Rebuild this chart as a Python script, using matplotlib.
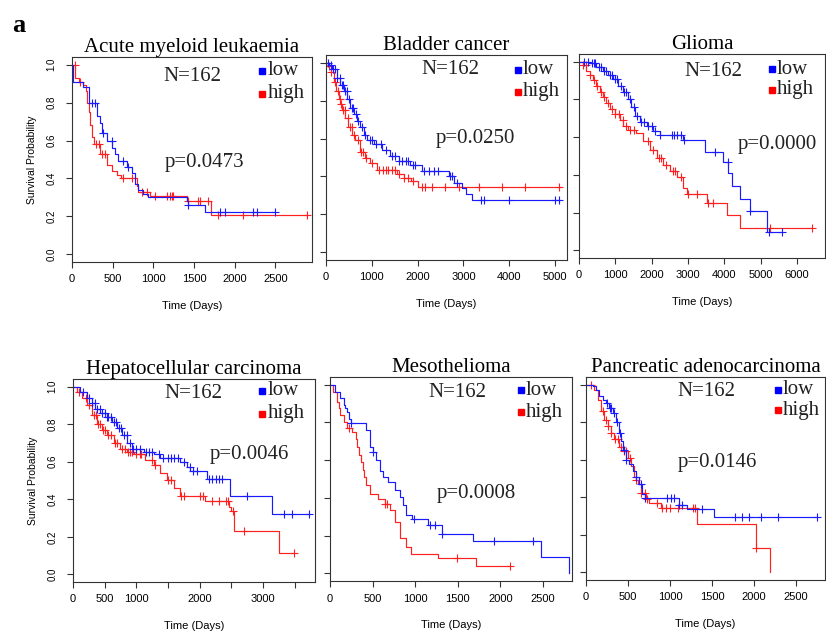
import numpy as np
import matplotlib
matplotlib.use('Agg')
import matplotlib.pyplot as plt

# === DATA ===
titles = ['Acute myeloid leukaemia', 'Bladder cancer', 'Glioma',
          'Hepatocellular carcinoma', 'Mesothelioma', 'Pancreatic adenocarcinoma']
n_label = 'N=162'
p_values = ['p=0.0473', 'p=0.0250', 'p=0.0000', 'p=0.0046', 'p=0.0008', 'p=0.0146']

# Acute myeloid leukaemia
aml_low_t = [0, 10, 139, 213, 303, 340, 370, 426, 490, 529, 570, 672, 733, 775, 815, 877, 939, 1410, 1430, 1635, 2496]
aml_low_s = [1.0, 0.91, 0.88, 0.80, 0.73, 0.69, 0.64, 0.60, 0.56, 0.53, 0.49, 0.46, 0.43, 0.37, 0.34, 0.32, 0.305, 0.28, 0.26, 0.225, 0.225]
aml_low_c = [242, 283, 385, 488, 631, 693, 1430, 1820, 1881, 2230, 2270, 2496]
aml_high_t = [0, 40, 80, 140, 170, 189, 205, 221, 240, 275, 344, 426, 488, 549, 600, 795, 816, 959, 1410, 1705, 2885]
aml_high_s = [1.0, 0.93, 0.91, 0.89, 0.86, 0.80, 0.75, 0.68, 0.62, 0.58, 0.53, 0.47, 0.44, 0.42, 0.40, 0.36, 0.33, 0.31, 0.28, 0.205, 0.205]
aml_high_c = [37, 100, 300, 330, 370, 400, 631, 734, 857, 918, 1020, 1164, 1205, 1225, 1246, 1430, 1553, 1574, 1676, 1800, 2107, 2885]

# Bladder cancer
bla_low_t = [0, 60, 130, 240, 313, 386, 458, 531, 604, 677, 750, 822, 895, 1040, 1223, 1405, 1587, 1841, 2096, 2678, 2800, 2970, 3050, 3188, 5117]
bla_low_s = [1.0, 0.985, 0.965, 0.92, 0.88, 0.85, 0.81, 0.76, 0.73, 0.69, 0.66, 0.62, 0.59, 0.57, 0.54, 0.51, 0.48, 0.46, 0.43, 0.40, 0.365, 0.34, 0.31, 0.275, 0.275]
bla_low_c = [50, 100, 150, 200, 250, 300, 350, 380, 420, 450, 500, 560, 600, 650, 700, 780, 850, 950, 1000, 1100,
             1200, 1300, 1450, 1500, 1600, 1650, 1750, 1800, 1900, 1950, 2150, 2250, 2350, 2450, 2700, 2750, 2850,
             3391, 3442, 4003, 5008, 5095]
bla_high_t = [0, 40, 100, 167, 218, 277, 306, 350, 422, 488, 568, 640, 742, 850, 961, 1106, 1543, 1700, 1850, 2016, 5117]
bla_high_s = [1.0, 0.98, 0.95, 0.90, 0.85, 0.81, 0.78, 0.75, 0.71, 0.66, 0.62, 0.59, 0.53, 0.50, 0.47, 0.435, 0.415, 0.39, 0.375, 0.347, 0.347]
bla_high_c = [60, 120, 200, 260, 300, 330, 380, 420, 470, 520, 560, 620, 700, 760, 800, 870, 1000, 1150, 1250, 1300,
              1350, 1450, 1500, 1600, 1700, 1800, 1900, 2100, 2170, 2314, 2606, 2897, 3333, 3843, 4352, 5080]

# Glioma
gli_low_t = [0, 294, 478, 662, 800, 938, 1076, 1214, 1352, 1444, 1536, 1674, 1858, 2042, 2226, 2870, 3468, 3974, 4100, 4204, 4434, 4710, 5170, 5584]
gli_low_s = [1.0, 0.99, 0.97, 0.95, 0.93, 0.91, 0.87, 0.84, 0.80, 0.76, 0.71, 0.68, 0.66, 0.63, 0.61, 0.585, 0.52, 0.47, 0.41, 0.34, 0.27, 0.21, 0.10, 0.10]
gli_low_c = [150, 250, 350, 400, 450, 550, 600, 700, 750, 850, 900, 1000, 1050, 1150, 1250, 1300, 1400, 1500, 1600,
             1700, 1800, 1900, 2000, 2100, 2226, 2550, 2620, 2700, 2820, 2880, 3744, 4094, 4710, 5216, 5584]
gli_high_t = [0, 100, 202, 290, 386, 478, 570, 662, 754, 846, 984, 1122, 1214, 1352, 1582, 1766, 1950, 2134, 2318, 2502, 2686, 2870, 2962, 3514, 4066, 4434, 6412]
gli_high_s = [1.0, 0.98, 0.95, 0.93, 0.90, 0.87, 0.84, 0.81, 0.78, 0.75, 0.72, 0.69, 0.66, 0.64, 0.62, 0.58, 0.53, 0.49, 0.45, 0.42, 0.39, 0.33, 0.30, 0.25, 0.19, 0.12, 0.12]
gli_high_c = [100, 200, 300, 400, 500, 600, 700, 800, 900, 1000, 1100, 1200, 1300, 1400, 1500, 1900, 2050, 2200, 2250,
              2400, 2600, 2650, 2800, 3000, 3238, 3560, 3698, 5262, 6412]

# Hepatocellular carcinoma
hcc_low_t = [0, 116, 221, 300, 353, 432, 537, 616, 695, 774, 853, 932, 1116, 1274, 1379, 1695, 1800, 1853, 2116, 2484, 3142, 3721]
hcc_low_s = [1.0, 0.97, 0.94, 0.91, 0.88, 0.86, 0.84, 0.81, 0.78, 0.74, 0.70, 0.67, 0.65, 0.64, 0.62, 0.60, 0.57, 0.55, 0.51, 0.42, 0.32, 0.32]
hcc_low_c = [150, 250, 300, 350, 380, 420, 460, 500, 540, 560, 600, 640, 680, 720, 760, 800, 850, 900, 950, 1000,
             1050, 1150, 1200, 1250, 1350, 1420, 1500, 1550, 1600, 1650, 1750, 1850, 1900, 1950, 2150, 2200, 2250,
             2300, 2350, 2747, 3326, 3458, 3721]
hcc_high_t = [0, 60, 142, 221, 300, 379, 458, 537, 642, 747, 853, 958, 1142, 1274, 1379, 1484, 1590, 1695, 2090, 2458, 2500, 2537, 3247, 3484]
hcc_high_s = [1.0, 0.97, 0.94, 0.90, 0.85, 0.80, 0.77, 0.74, 0.70, 0.67, 0.65, 0.64, 0.61, 0.58, 0.54, 0.50, 0.46, 0.42, 0.39, 0.36, 0.34, 0.23, 0.115, 0.115]
hcc_high_c = [100, 200, 260, 330, 360, 400, 430, 480, 500, 560, 600, 660, 700, 780, 820, 870, 900, 930, 1000, 1050,
              1080, 1250, 1300, 1500, 1550, 1700, 1750, 2000, 2050, 2200, 2300, 2420, 2450, 2520, 2700, 3484]

# Mesothelioma
mes_low_t = [0, 60, 121, 161, 181, 202, 222, 242, 423, 464, 504, 544, 585, 625, 685, 766, 827, 860, 887, 968, 1149, 1310, 1681, 2472, 2802]
mes_low_s = [1.0, 0.96, 0.93, 0.89, 0.875, 0.857, 0.82, 0.795, 0.76, 0.67, 0.645, 0.60, 0.54, 0.51, 0.485, 0.44, 0.405, 0.36, 0.31, 0.29, 0.255, 0.21, 0.17, 0.087, 0.0]
mes_low_c = [250, 504, 988, 1169, 1230, 1310, 1927, 2379]
mes_high_t = [0, 40, 81, 100, 121, 161, 202, 262, 302, 320, 343, 363, 383, 403, 423, 464, 565, 645, 706, 766, 827, 887, 948, 1270, 1714, 2117]
mes_high_s = [1.0, 0.96, 0.91, 0.875, 0.84, 0.80, 0.77, 0.75, 0.71, 0.67, 0.627, 0.59, 0.547, 0.51, 0.467, 0.418, 0.396, 0.37, 0.335, 0.27, 0.19, 0.14, 0.104, 0.081, 0.042, 0.042]
mes_high_c = [222, 645, 665, 1492, 2109]

# Pancreatic adenocarcinoma
pan_low_t = [0, 79, 119, 158, 198, 237, 277, 316, 356, 396, 415, 435, 475, 514, 554, 593, 633, 672, 700, 1107, 1200, 1520, 2750]
pan_low_s = [1.0, 0.99, 0.97, 0.94, 0.92, 0.90, 0.875, 0.85, 0.80, 0.74, 0.70, 0.65, 0.60, 0.575, 0.54, 0.51, 0.47, 0.42, 0.396, 0.36, 0.34, 0.293, 0.293]
pan_low_c = [250, 280, 300, 330, 370, 400, 450, 480, 600, 650, 700, 968, 1008, 1047, 1107, 1146, 1383, 1778, 1858,
             1937, 2076, 2286, 2750]
pan_high_t = [0, 99, 138, 178, 217, 257, 296, 336, 396, 435, 494, 534, 574, 593, 613, 652, 712, 751, 889, 1325, 2017, 2184]
pan_high_s = [1.0, 0.97, 0.92, 0.86, 0.81, 0.78, 0.74, 0.71, 0.67, 0.645, 0.61, 0.565, 0.51, 0.49, 0.47, 0.425, 0.39, 0.37, 0.345, 0.26, 0.13, 0.0]
pan_high_c = [59, 200, 240, 260, 300, 340, 380, 420, 450, 480, 520, 600, 660, 700, 720, 850, 900, 950, 1000, 1100,
              1270, 1300, 2017]

curves = [
    (aml_low_t, aml_low_s, aml_low_c, aml_high_t, aml_high_s, aml_high_c),
    (bla_low_t, bla_low_s, bla_low_c, bla_high_t, bla_high_s, bla_high_c),
    (gli_low_t, gli_low_s, gli_low_c, gli_high_t, gli_high_s, gli_high_c),
    (hcc_low_t, hcc_low_s, hcc_low_c, hcc_high_t, hcc_high_s, hcc_high_c),
    (mes_low_t, mes_low_s, mes_low_c, mes_high_t, mes_high_s, mes_high_c),
    (pan_low_t, pan_low_s, pan_low_c, pan_high_t, pan_high_s, pan_high_c),
]

x_ticks = [
    [0, 500, 1000, 1500, 2000, 2500],
    [0, 1000, 2000, 3000, 4000, 5000],
    [0, 1000, 2000, 3000, 4000, 5000, 6000],
    [0, 500, 1000, 1500, 2000, 2500, 3000, 3500],
    [0, 500, 1000, 1500, 2000, 2500],
    [0, 500, 1000, 1500, 2000, 2500],
]
x_ticklabels = [
    ['0', '500', '1000', '1500', '2000', '2500'],
    ['0', '1000', '2000', '3000', '4000', '5000'],
    ['0', '1000', '2000', '3000', '4000', '5000', '6000'],
    ['0', '500', '1000', '', '2000', '', '3000', ''],
    ['0', '500', '1000', '1500', '2000', '2500'],
    ['0', '500', '1000', '1500', '2000', '2500'],
]
y_ticks = [0.0, 0.2, 0.4, 0.6, 0.8, 1.0]
y_ticklabels = ['0.0', '0.2', '0.4', '0.6', '0.8', '1.0']

# === LAYOUT (pixels: left, right, top, bottom) ===
W, H = 826, 633
rects = [(72, 312, 57, 262), (326, 567, 55, 260), (579, 825, 54, 258),
         (73, 315, 379, 582), (330, 572, 377, 581), (586, 825, 377, 580)]
xmaxes = [2950, 5262, 6770, 3820, 2840, 2843]
# axes fraction: N text, legend square x, low y, high y, legend text x, p text
annot = [
    ((0.50, 0.907), 0.792, 0.932, 0.820, 0.817, (0.554, 0.483)),
    ((0.515, 0.927), 0.797, 0.927, 0.820, 0.817, (0.622, 0.595)),
    ((0.545, 0.912), 0.785, 0.926, 0.824, 0.805, (0.805, 0.554)),
    ((0.496, 0.931), 0.781, 0.941, 0.828, 0.806, (0.731, 0.626)),
    ((0.525, 0.922), 0.789, 0.936, 0.828, 0.810, (0.603, 0.431)),
    ((0.502, 0.931), 0.803, 0.936, 0.837, 0.824, (0.548, 0.581)),
]

SERIF = 'Liberation Serif'
SANS = 'Liberation Sans'
LOW_C = '#1a1aff'
HIGH_C = '#ff2020'


def surv_at(t, s, c):
    idx = np.searchsorted(np.array(t), c, side='right') - 1
    return np.array(s)[idx]


fig = plt.figure(figsize=(W / 100, H / 100), dpi=100)
fig.patch.set_facecolor('white')

for i, (l, r, t, b) in enumerate(rects):
    ax = fig.add_axes([l / W, 1 - b / H, (r - l) / W, (b - t) / H])
    lt, ls, lc, ht, hs, hc = curves[i]

    for tt, ss, cc, col in [(ht, hs, hc, HIGH_C), (lt, ls, lc, LOW_C)]:
        ax.step(tt, ss, where='post', color=col, lw=0.85)
        ax.plot(cc, surv_at(tt, ss, cc), '+', color=col, ms=5.5, mew=0.8)

    ax.set_xlim(0, xmaxes[i])
    ax.set_ylim(-0.04, 1.04)
    ax.set_xticks(x_ticks[i])
    ax.set_xticklabels(x_ticklabels[i], fontfamily=SANS, fontsize=8)
    ax.set_yticks(y_ticks)
    if i % 3 == 0:
        ax.set_yticklabels(y_ticklabels, fontfamily=SANS, fontsize=7, rotation=90, va='center')
        ax.set_ylabel('Survival Probability', fontfamily=SANS, fontsize=7.5, labelpad=7)
    else:
        ax.set_yticklabels([])
    ax.tick_params(direction='out', length=4, width=0.8, color='#333333')
    ax.tick_params(axis='x', pad=5)
    ax.tick_params(axis='y', pad=7)
    ax.set_xlabel('Time (Days)', fontfamily=SANS, fontsize=8, labelpad=12)
    for sp in ax.spines.values():
        sp.set_color('#333333')
        sp.set_linewidth(0.8)

    ax.set_title(titles[i], fontfamily=SERIF, fontsize=15, pad=3)

    (nx, ny), sqx, ly, hy, tx, (px, py) = annot[i]
    ax.text(nx, ny, n_label, transform=ax.transAxes, ha='center', va='center',
            fontfamily=SERIF, fontsize=15, color='#222222')
    ax.plot([sqx], [ly], 's', color='blue', ms=5, transform=ax.transAxes, clip_on=False)
    ax.plot([sqx], [hy], 's', color='red', ms=5, transform=ax.transAxes, clip_on=False)
    ax.text(tx, ly, 'low', transform=ax.transAxes, ha='left', va='center',
            fontfamily=SERIF, fontsize=15, color='#222222')
    ax.text(tx, hy, 'high', transform=ax.transAxes, ha='left', va='center',
            fontfamily=SERIF, fontsize=15, color='#222222')
    ax.text(px, py, p_values[i], transform=ax.transAxes, ha='center', va='center',
            fontfamily=SERIF, fontsize=15, color='#222222')

fig.text(19 / W, 1 - 25 / H, 'a', fontfamily=SERIF, fontweight='bold', fontsize=19,
         ha='center', va='center')

fig.savefig('out.png', dpi=100)
